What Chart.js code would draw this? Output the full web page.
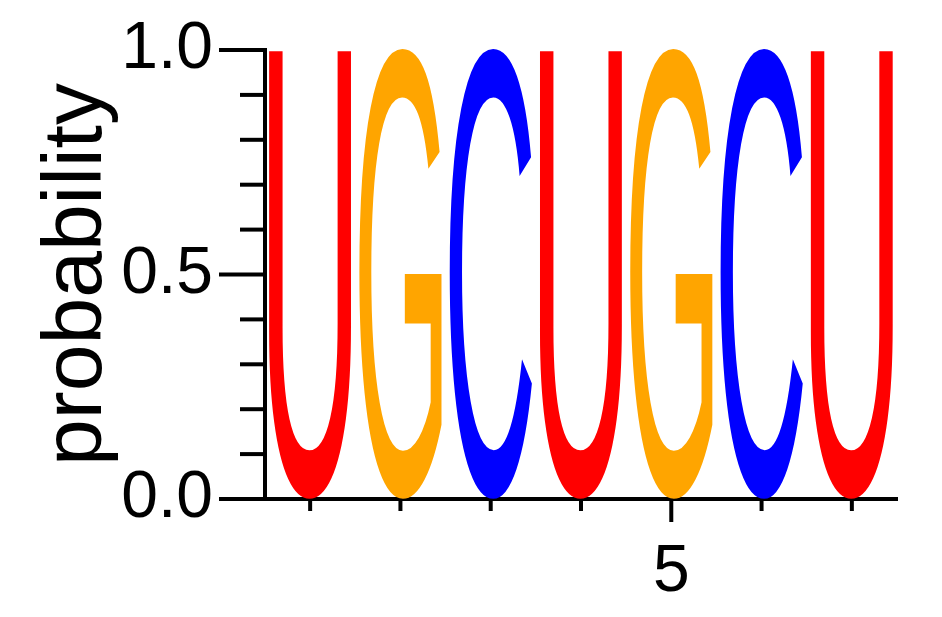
<!DOCTYPE html>
<html>
<head>
<meta charset="utf-8">
<script src="https://cdn.jsdelivr.net/npm/chart.js@4"></script>
<style>
  html, body { margin: 0; padding: 0; background: #fff; }
  #wrap { width: 942px; height: 617px; }
</style>
</head>
<body>
<div id="wrap"><canvas id="logo"></canvas></div>
<script>
// sequence logo data
const positions = ['1', '2', '3', '4', '5', '6', '7'];
const letters = ['U', 'G', 'C', 'U', 'G', 'C', 'U'];
const probability = [1, 1, 1, 1, 1, 1, 1];
const xTickLabels = ['5'];
const yMinorTicks = [0, 0.1, 0.2, 0.3, 0.4, 0.5, 0.6, 0.7, 0.8, 0.9, 1.0];
const yTickValues = [0, 0.5, 1.0];
const yTickLabels = ['0.0', '0.5', '1.0'];
const letterColors = { U: '#ff0000', G: '#ffa500', C: '#0000ff' };

const FONT = '"Liberation Sans", Arial, sans-serif';
const GLYPH_PX = 300;

// ink box of a glyph, found by scanning an offscreen render
const glyphBoxes = {};
function glyphBox(ch) {
    if (glyphBoxes[ch]) return glyphBoxes[ch];
    const size = 500, ox = 100, oy = 400;
    const c = document.createElement('canvas');
    c.width = size; c.height = size;
    const g = c.getContext('2d', { willReadFrequently: true });
    g.font = '400 ' + GLYPH_PX + 'px ' + FONT;
    g.textBaseline = 'alphabetic';
    g.fillStyle = '#000';
    g.fillText(ch, ox, oy);
    const px = g.getImageData(0, 0, size, size).data;
    let x0 = size, x1 = -1, y0 = size, y1 = -1;
    for (let y = 0; y < size; y++) {
        for (let x = 0; x < size; x++) {
            if (px[(y * size + x) * 4 + 3] > 127) {
                if (x < x0) x0 = x;
                if (x > x1) x1 = x;
                if (y < y0) y0 = y;
                if (y > y1) y1 = y;
            }
        }
    }
    glyphBoxes[ch] = { left: x0 - ox, right: x1 + 1 - ox, top: y0 - oy, bottom: y1 + 1 - oy };
    return glyphBoxes[ch];
}

// draws each letter stretched to fill its bar
const letterPlugin = {
    id: 'letters',
    afterDatasetsDraw(chart) {
        const ctx = chart.ctx;
        const meta = chart.getDatasetMeta(0);
        ctx.save();
        ctx.font = '400 ' + GLYPH_PX + 'px ' + FONT;
        ctx.textAlign = 'left';
        ctx.textBaseline = 'alphabetic';
        meta.data.forEach(function (bar, i) {
            const p = bar.getProps(['x', 'y', 'base', 'width'], true);
            const ch = letters[i];
            const b = glyphBox(ch);
            const sx = p.width / (b.right - b.left);
            const sy = (p.base - p.y) / (b.bottom - b.top);
            ctx.save();
            ctx.translate(p.x - p.width / 2 - b.left * sx, p.y - b.top * sy);
            ctx.scale(sx, sy);
            ctx.fillStyle = letterColors[ch];
            ctx.fillText(ch, 0, 0);
            ctx.restore();
        });
        ctx.restore();
    }
};

// tick marks: long for labelled ticks, short for the rest
const tickPlugin = {
    id: 'tickMarks',
    afterDraw(chart) {
        const ctx = chart.ctx;
        const xs = chart.scales.x;
        const ys = chart.scales.y;
        const area = chart.chartArea;
        ctx.save();
        ctx.strokeStyle = '#000';
        ctx.lineWidth = 4;
        ys.ticks.forEach(function (t) {
            const py = ys.getPixelForValue(t.value);
            const major = yTickValues.some(v => Math.abs(v - t.value) < 1e-6);
            const len = major ? 44 : 23;
            ctx.beginPath();
            ctx.moveTo(area.left - 2, py);
            ctx.lineTo(area.left - 2 - len, py);
            ctx.stroke();
        });
        xs.ticks.forEach(function (t, i) {
            const px = xs.getPixelForTick(i);
            const major = xTickLabels.includes(positions[i]);
            const len = major ? 22 : 11;
            ctx.beginPath();
            ctx.moveTo(px, area.bottom + 1);
            ctx.lineTo(px, area.bottom + 1 + len);
            ctx.stroke();
        });
        ctx.restore();
    }
};

new Chart(document.getElementById('logo').getContext('2d'), {
    type: 'bar',
    data: {
        labels: positions,
        datasets: [{
            data: probability,
            backgroundColor: 'rgba(0,0,0,0)',
            borderWidth: 0,
            categoryPercentage: 1.0,
            barPercentage: 0.91
        }]
    },
    options: {
        responsive: true,
        maintainAspectRatio: false,
        animation: false,
        devicePixelRatio: 1,
        layout: { padding: { top: 50, right: 45, left: 0, bottom: 0 } },
        plugins: {
            legend: { display: false },
            tooltip: { enabled: false }
        },
        scales: {
            x: {
                offset: true,
                grid: { display: false, drawTicks: false },
                border: { display: true, color: '#000', width: 4 },
                ticks: {
                    autoSkip: false,
                    maxRotation: 0,
                    padding: 34,
                    color: '#000',
                    font: { family: FONT, size: 66 },
                    callback: function (value, index) {
                        const lab = positions[index];
                        return xTickLabels.includes(lab) ? lab : '';
                    }
                },
                afterFit: function (scale) {
                    scale.height = 118;
                    scale.paddingLeft = 0;
                    scale.paddingRight = 0;
                }
            },
            y: {
                min: 0,
                max: 1,
                grid: { display: false, drawTicks: false },
                border: { display: true, color: '#000', width: 4 },
                afterBuildTicks: function (scale) {
                    scale.ticks = yMinorTicks.map(v => ({ value: v }));
                },
                ticks: {
                    autoSkip: false,
                    padding: 52,
                    color: '#000',
                    font: { family: FONT, size: 66 },
                    callback: function (value) {
                        const k = yTickValues.findIndex(v => Math.abs(v - value) < 1e-6);
                        return k >= 0 ? yTickLabels[k] : '';
                    }
                },
                title: {
                    display: true,
                    text: 'probability',
                    color: '#000',
                    font: { family: FONT, size: 84, lineHeight: 1 },
                    padding: { top: 36, bottom: 0 }
                },
                afterFit: function (scale) {
                    scale.width = 265;
                    scale.paddingTop = 0;
                    scale.paddingBottom = 0;
                }
            }
        }
    },
    plugins: [letterPlugin, tickPlugin]
});
</script>
</body>
</html>
